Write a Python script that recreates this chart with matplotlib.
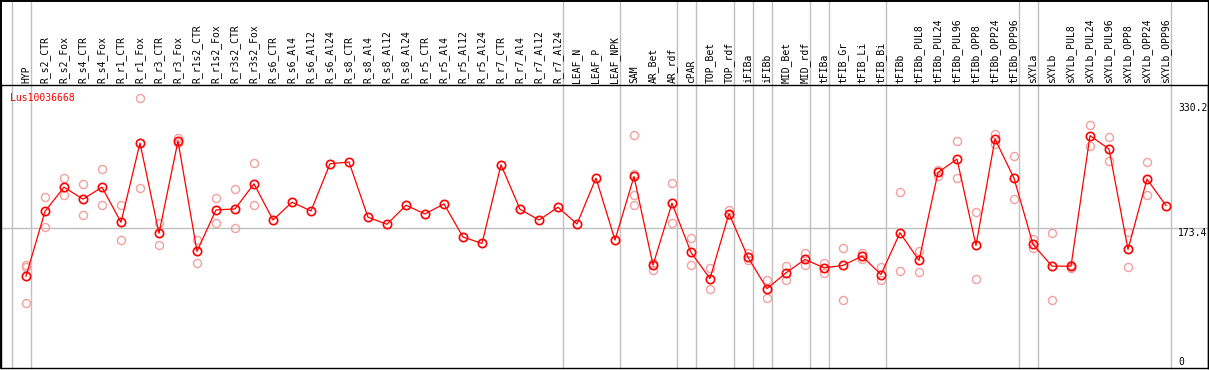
import matplotlib
matplotlib.use("Agg")
import matplotlib.pyplot as plt
from matplotlib.lines import Line2D

# sample names along the top
categories = [
    "HYP", "R_s2_CTR", "R_s2_Fox", "R_s4_CTR", "R_s4_Fox", "R_r1_CTR", "R_r1_Fox",
    "R_r3_CTR", "R_r3_Fox", "R_r1s2_CTR", "R_r1s2_Fox", "R_r3s2_CTR", "R_r3s2_Fox",
    "R_s6_CTR", "R_s6_Al4", "R_s6_Al12", "R_s6_Al24", "R_s8_CTR", "R_s8_Al4",
    "R_s8_Al12", "R_s8_Al24", "R_r5_CTR", "R_r5_Al4", "R_r5_Al12", "R_r5_Al24",
    "R_r7_CTR", "R_r7_Al4", "R_r7_Al12", "R_r7_Al24", "LEAF_N", "LEAF_P", "LEAF_NPK",
    "SAM", "AR_Bet", "AR_rdf", "cPAR", "TOP_Bet", "TOP_rdf", "iFIBa", "iFIBb",
    "MID_Bet", "MID_rdf", "tFIBa", "tFIB_Gr", "tFIB_Li", "tFIB_Bi", "tFIBb",
    "tFIBb_PUL8", "tFIBb_PUL24", "tFIBb_PUL96", "tFIBb_OPP8", "tFIBb_OPP24",
    "tFIBb_OPP96", "sXYLa", "sXYLb", "sXYLb_PUL8", "sXYLb_PUL24", "sXYLb_PUL96",
    "sXYLb_OPP8", "sXYLb_OPP24", "sXYLb_OPP96",
]

# mean expression per sample
means = [
    113.6, 194.5, 224.8, 209.8, 224.8, 180.9, 280.0, 167.1, 282.5, 144.5, 196.4,
    197.6, 229.0, 183.8, 206.0, 195.1, 254.1, 256.2, 187.2, 178.4, 202.2, 191.3,
    203.9, 162.5, 154.5, 252.8, 197.2, 183.8, 199.7, 178.8, 236.1, 158.7, 238.2,
    127.4, 204.7, 143.2, 110.6, 191.8, 137.0, 98.1, 117.7, 134.5, 124.0, 127.0,
    138.6, 115.6, 167.9, 133.2, 243.2, 259.9, 152.0, 285.0, 236.1, 153.3, 126.1,
    126.1, 289.2, 272.5, 147.0, 234.9, 201.8,
]

# individual replicates (empty where none shown)
replicates = [
    [127.7, 124.5, 80.3], [212.3, 174.7], [236.1, 214.8], [228.6, 189.7],
    [247.4, 202.2], [202.2, 158.3], [336.5, 223.6], [180.4, 152.1], [285.8, 280.0],
    [158.7, 129.5], [211.0, 179.7], [222.3, 173.4], [255.0, 202.2],
    [], [], [], [], [], [], [], [], [], [], [], [], [], [], [], [], [], [], [],
    [290.1, 241.5, 215.2, 202.2], [129.5, 121.9], [229.9, 179.6], [160.8, 127.4],
    [123.2, 98.1], [196.4, 190.1], [142.0, 133.6], [108.5, 86.8], [126.1, 109.4],
    [142.8, 127.0], [129.5, 117.7], [148.3, 84.3], [142.0, 135.2], [125.3, 109.4],
    [219.0, 119.8], [145.3, 119.4], [245.7, 239.0], [282.5, 236.1], [193.9, 110.6],
    [291.7, 279.2], [263.3, 209.8], [160.4, 148.3], [167.1, 84.3], [127.4, 123.4],
    [303.0, 275.8], [287.5, 257.0], [168.8, 124.8], [256.2, 214.8], [],
]

# last sample index of each group (-1 is the leading edge)
group_ends = [-1, 0, 28, 31, 34, 35, 37, 38, 39, 41, 42, 45, 52, 53, 60]

gene = "Lus10036668"
max_label = 330.2
mid_label = 173.4

W, H = 1209, 370
fig = plt.figure(figsize=(W / 100, H / 100), dpi=100)
ax = fig.add_axes([1 / W, 2 / H, 1207 / W, 283 / H])

x = list(range(len(categories)))
ax.set_xlim((1 - 26) / 19, (1208 - 26) / 19)
ax.set_ylim(-1.2, 352.5)

grey = "#c0c0c0"
ax.axhline(mid_label, color=grey, lw=1.0, zorder=1)
for g in group_ends:
    ax.axvline(g + 0.24, ymin=0, ymax=368 / 283, color=grey, lw=1.0,
               clip_on=False, zorder=1)

rx = [i for i, r in enumerate(replicates) for _ in r]
ry = [v for r in replicates for v in r]
ax.plot(rx, ry, ls="none", marker="o", ms=5.8, mfc="none", mec="#f4a0a0",
        mew=1.0, zorder=2)
ax.plot(x, means, color="red", lw=0.9, zorder=3)
ax.plot(x, means, ls="none", marker="o", ms=6, mfc="none", mec="red",
        mew=1.2, zorder=4)

mono = "DejaVu Sans Mono"
top = ax.get_xaxis_transform()
for i, name in enumerate(categories):
    ax.text(i, 1 + 2.5 / 283, name, transform=top, rotation=90, ha="center",
            va="bottom", fontsize=7, family=mono, clip_on=False)

ax.text((10 - 26) / 19, (368 - 98) / 283, gene, transform=top, color="red",
        ha="left", va="center", fontsize=7, family=mono)

lx = (1178 - 26) / 19
ax.text(lx, max_label, f"{max_label}", ha="left", va="top", fontsize=7, family=mono)
ax.text(lx, mid_label, f"{mid_label}", ha="left", va="top", fontsize=7, family=mono)
ax.text(lx, 0, "0", ha="left", va="bottom", fontsize=7, family=mono)

ax.set_xticks([])
ax.set_yticks([])
for s in ax.spines.values():
    s.set_linewidth(1.0)
    s.set_color("black")

# outer frame around the header block
fig.add_artist(Line2D([0.5 / W, 0.5 / W], [2 / H, 1], color="black", lw=1.4))
fig.add_artist(Line2D([0, 1], [1 - 0.7 / H, 1 - 0.7 / H], color="black", lw=1.4))
fig.add_artist(Line2D([1208 / W, 1208 / W], [2 / H, 1], color="black", lw=1.0))

fig.savefig("out.png", dpi=100)
plt.close(fig)
